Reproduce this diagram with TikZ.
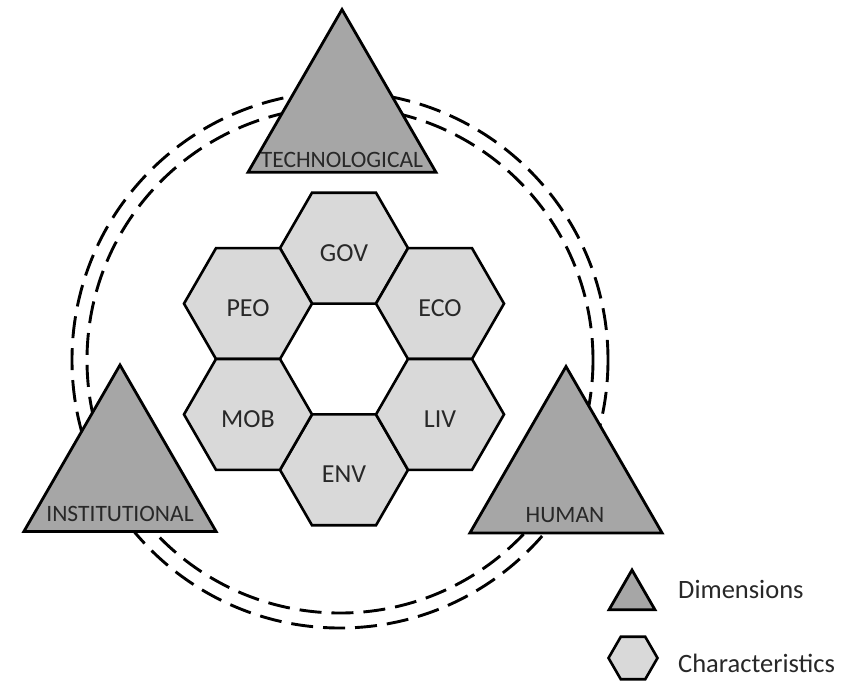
\documentclass[tikz,border=0pt]{standalone}
\usepackage{fontspec}
\setmainfont{Carlito}
\usetikzlibrary{shapes.geometric,calc}
\definecolor{dimfill}{RGB}{166,166,166}
\definecolor{charfill}{RGB}{217,217,217}
\definecolor{txt}{RGB}{40,40,40}
\begin{document}
\begin{tikzpicture}[x=1pt,y=-1pt,
  dimension/.style={regular polygon, regular polygon sides=3, draw=black, line width=2.8pt,
    fill=dimfill, inner sep=0pt, outer sep=0pt, line join=miter},
  charhex/.style={regular polygon, regular polygon sides=6, draw=black, line width=2.6pt,
    fill=charfill, minimum size=128pt, inner sep=0pt, outer sep=0pt, text=txt,
    font=\fontsize{26}{30}\selectfont, text height=26pt, text depth=0pt},
  dimlabel/.style={text=txt, font=\fontsize{23.5}{28}\selectfont, inner sep=0pt, anchor=base},
  legendtext/.style={text=txt, font=\fontsize{26.5}{30}\selectfont, inner sep=0pt, anchor=base west},
  ring/.style={draw=black, line width=2.9pt, dash pattern=on 22pt off 10pt}
]
\useasboundingbox (0,0) rectangle (861,681);
\fill[white] (0,0) rectangle (861,681);

% dashed rings
\coordinate (rc) at (340,360);
\draw[ring] (rc) circle[radius=268];
\draw[ring] (rc) circle[radius=253];

% characteristics
\coordinate (hc) at (344,359);
\node[charhex] (gov) at ($(hc)+(0,-110.85)$) {GOV};
\node[charhex] (env) at ($(hc)+(0,110.85)$) {ENV};
\node[charhex] (peo) at ($(hc)+(-96,-55.4)$) {PEO};
\node[charhex] (eco) at ($(hc)+(96,-55.4)$) {ECO};
\node[charhex] (mob) at ($(hc)+(-96,55.4)$) {MOB};
\node[charhex] (liv) at ($(hc)+(96,55.4)$) {LIV};

% dimensions
\node[dimension, minimum size=217pt] (tech) at (342,118) {};
\node[dimension, minimum size=222pt] (inst) at (120,476) {};
\node[dimension, minimum size=222pt] (hum) at (566,477.5) {};
\node[dimlabel] (techl) at ([yshift=5pt]tech.side 2) {TECHNOLOGICAL};
\node[dimlabel] (instl) at ([yshift=10pt]inst.side 2) {INSTITUTIONAL};
\node[dimlabel] (huml) at ([yshift=11pt,xshift=-1pt]hum.side 2) {HUMAN};

% legend
\node[dimension, minimum size=53pt] (legtri) at (632,596.5) {};
\node[charhex, minimum size=49pt] (leghex) at (633,658) {};
\node[legendtext] (legdim) at (678,598) {Dimensions};
\node[legendtext] (legchar) at (678,672) {Characteristics};
\end{tikzpicture}
\end{document}
